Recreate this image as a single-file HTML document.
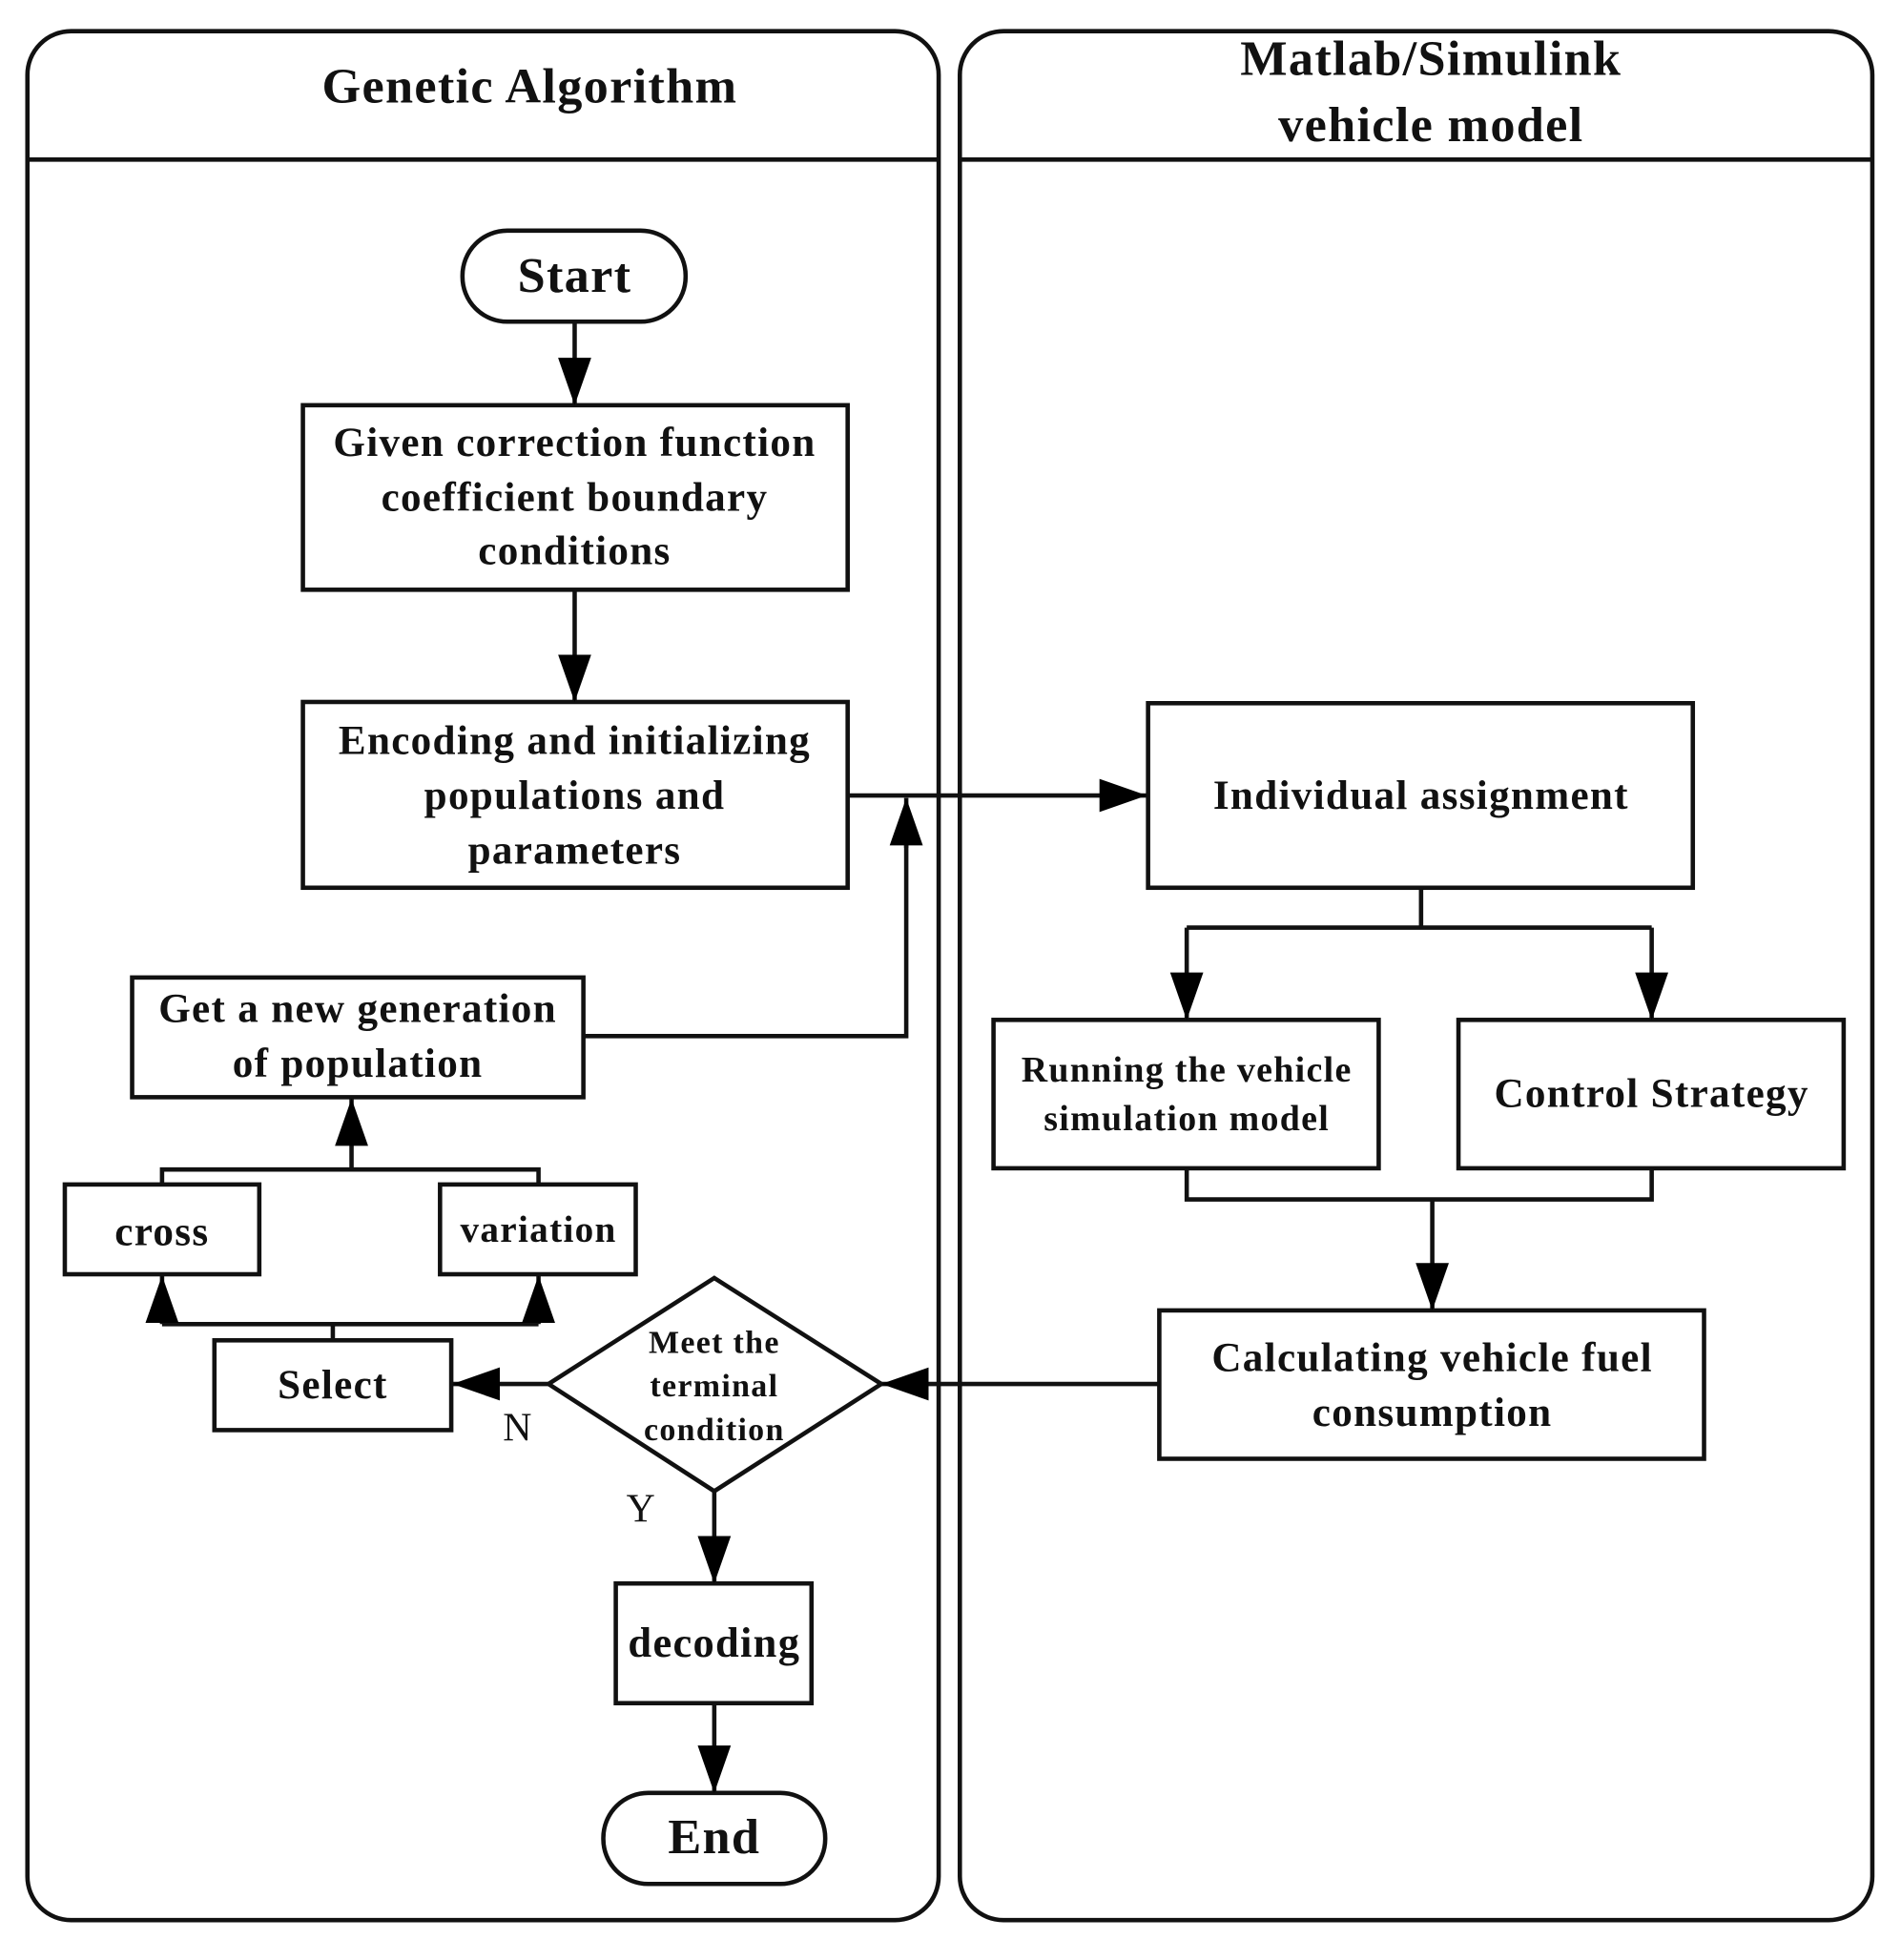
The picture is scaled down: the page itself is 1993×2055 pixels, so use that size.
<!DOCTYPE html>
<html><head><meta charset="utf-8"><style>
html,body{margin:0;padding:0;background:#fff;}
svg{display:block;}
text{font-family:"Liberation Serif",serif;font-weight:bold;fill:#111;text-anchor:middle;dominant-baseline:middle;letter-spacing:1px;}
text.n{font-weight:normal;letter-spacing:0;}
</style></head><body>
<svg width="1993" height="2055" viewBox="0 0 1525 1572" preserveAspectRatio="none" xmlns="http://www.w3.org/2000/svg">
<defs>
<marker id="b" viewBox="0 0 10 10" refX="10" refY="5" markerWidth="38" markerHeight="38" markerUnits="userSpaceOnUse" orient="auto"><path d="M0,1.5 L10,5 L0,8.5 z" fill="#000"/></marker></defs>
<g fill="none" stroke="#111" stroke-width="3.5">
<rect x="22" y="25" width="731" height="1515" rx="35"/>
<line x1="22" y1="128" x2="753" y2="128"/>
<rect x="770" y="25" width="732" height="1515" rx="35"/>
<line x1="770" y1="128" x2="1502" y2="128"/>
<rect x="371" y="185" width="179" height="73" rx="36"/>
<rect x="243" y="325" width="437" height="148"/>
<rect x="243" y="563" width="437" height="149"/>
<rect x="921" y="564" width="437" height="148"/>
<rect x="797" y="818" width="309" height="119"/>
<rect x="1170" y="818" width="309" height="119"/>
<rect x="930" y="1051" width="437" height="119"/>
<path d="M440,1110 L573,1025 L707,1110 L573,1196 Z"/>
<rect x="172" y="1075" width="190" height="72"/>
<rect x="52" y="950" width="156" height="72"/>
<rect x="353" y="950" width="157" height="72"/>
<rect x="106" y="784" width="362" height="96"/>
<rect x="494" y="1270" width="157" height="96"/>
<rect x="484" y="1438" width="178" height="73" rx="36"/>
<line x1="461" y1="258" x2="461" y2="325" marker-end="url(#b)"/>
<line x1="461" y1="473" x2="461" y2="563" marker-end="url(#b)"/>
<line x1="680" y1="638" x2="920" y2="638" marker-end="url(#b)"/>
<polyline points="1140,712 1140,744"/>
<polyline points="952,744 1325,744"/>
<line x1="952" y1="744" x2="952" y2="818" marker-end="url(#b)"/>
<line x1="1325" y1="744" x2="1325" y2="818" marker-end="url(#b)"/>
<polyline points="952,937 952,962 1325,962 1325,937"/>
<line x1="1149" y1="962" x2="1149" y2="1051" marker-end="url(#b)"/>
<line x1="930" y1="1110" x2="707" y2="1110" marker-end="url(#b)"/>
<line x1="440" y1="1110" x2="363" y2="1110" marker-end="url(#b)"/>
<line x1="267" y1="1075" x2="267" y2="1062"/>
<polyline points="130,1062 432,1062"/>
<line x1="130" y1="1062" x2="130" y2="1023" marker-end="url(#b)"/>
<line x1="432" y1="1062" x2="432" y2="1023" marker-end="url(#b)"/>
<polyline points="130,950 130,938 432,938 432,950"/>
<line x1="282" y1="938" x2="282" y2="881" marker-end="url(#b)"/>
<polyline points="468,831 727,831 727,645"/>
<line x1="727" y1="680" x2="727" y2="640" marker-end="url(#b)"/>
<line x1="573" y1="1196" x2="573" y2="1270" marker-end="url(#b)"/>
<line x1="573" y1="1366" x2="573" y2="1438" marker-end="url(#b)"/>
</g>
<text x="425" y="73" font-size="40">Genetic Algorithm</text>
<text x="1148" y="51" font-size="40">Matlab/Simulink</text>
<text x="1148" y="104" font-size="40">vehicle model</text>
<text x="461" y="225" font-size="40">Start</text>
<text x="461" y="358" font-size="33">Given correction function</text>
<text x="461" y="402" font-size="33">coefficient boundary</text>
<text x="461" y="445" font-size="33">conditions</text>
<text x="461" y="597" font-size="33">Encoding and initializing</text>
<text x="461" y="641" font-size="33">populations and</text>
<text x="461" y="685" font-size="33">parameters</text>
<text x="1140" y="641" font-size="33">Individual assignment</text>
<text x="952" y="861" font-size="29">Running the vehicle</text>
<text x="952" y="900" font-size="29">simulation model</text>
<text x="1325" y="880" font-size="33">Control Strategy</text>
<text x="1149" y="1092" font-size="33">Calculating vehicle fuel</text>
<text x="1149" y="1136" font-size="33">consumption</text>
<text x="573" y="1079" font-size="26">Meet the</text>
<text x="573" y="1114" font-size="26">terminal</text>
<text x="573" y="1149" font-size="26">condition</text>
<text x="267" y="1114" font-size="33">Select</text>
<text x="130" y="991" font-size="33">cross</text>
<text x="432" y="989" font-size="30">variation</text>
<text x="287" y="812" font-size="33">Get a new generation</text>
<text x="287" y="856" font-size="33">of population</text>
<text x="573" y="1321" font-size="34">decoding</text>
<text x="573" y="1477" font-size="40">End</text>
<text class="n" x="415" y="1148" font-size="32">N</text>
<text class="n" x="514" y="1213" font-size="32">Y</text>
</svg>
</body></html>
